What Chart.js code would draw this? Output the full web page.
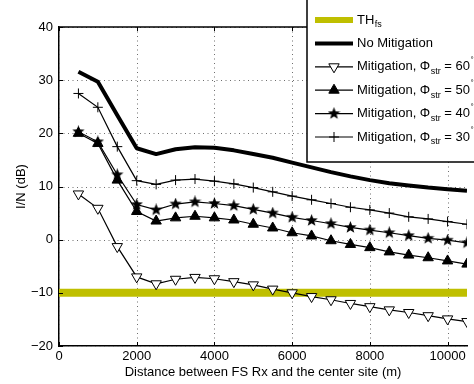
<!DOCTYPE html>
<html>
<head>
<meta charset="utf-8">
<script src="https://cdn.jsdelivr.net/npm/chart.js@4.4.1/dist/chart.umd.min.js"></script>
<style>
    html, body { margin: 0; padding: 0; background: #fff; overflow: hidden; }
</style>
</head>
<body>
<canvas id="chart" width="474" height="384"></canvas>
<script>
const distances = [500, 1000, 1500, 2000, 2500, 3000, 3500, 4000, 4500, 5000, 5500,
    6000, 6500, 7000, 7500, 8000, 8500, 9000, 9500, 10000, 10500];

const noMitigation = [31.6, 29.7, 23.4, 17.2, 16.1, 17.0, 17.4, 17.3, 16.8, 16.1, 15.4,
    14.5, 13.6, 12.7, 11.9, 11.2, 10.6, 10.2, 9.8, 9.5, 9.2];
const mitigation60 = [8.6, 5.9, -1.3, -7.0, -8.3, -7.45, -7.1, -7.35, -7.9, -8.5, -9.3,
    -10.0, -10.7, -11.3, -12.0, -12.6, -13.2, -13.7, -14.3, -14.9, -15.4];
const mitigation50 = [20.0, 18.1, 11.2, 5.3, 3.5, 4.1, 4.4, 4.1, 3.7, 2.9, 2.2,
    1.3, 0.7, -0.2, -0.9, -1.5, -2.3, -2.9, -3.4, -4.0, -4.6];
const mitigation40 = [20.3, 18.4, 12.2, 6.6, 5.6, 6.7, 7.1, 6.8, 6.4, 5.7, 5.0,
    4.2, 3.6, 3.0, 2.3, 1.8, 1.3, 0.75, 0.25, -0.1, -0.6];
const mitigation30 = [27.5, 24.9, 17.5, 11.1, 10.4, 11.2, 11.4, 11.0, 10.5, 9.8, 9.0,
    8.2, 7.5, 6.8, 6.1, 5.6, 5.0, 4.3, 3.9, 3.4, 2.9];

const thresholdX = [0, 10500];
const thresholdY = [-10, -10];

const xTicks = [0, 2000, 4000, 6000, 8000, 10000];
const yTicks = [-20, -10, 0, 10, 20, 30, 40];

const FONT = "'Liberation Sans', Arial, Helvetica, sans-serif";
const TH_COLOR = "#bfbf00";

function toPoints(xs, ys) {
    return xs.map((x, i) => ({ x, y: ys[i] }));
}

// filled five point star, chart.js 'star' is only outlined
function makeStar(size) {
    const c = document.createElement("canvas");
    c.width = size;
    c.height = size;
    const g = c.getContext("2d");
    const R = size / 2;
    const r = R * 0.42;
    g.beginPath();
    for (let i = 0; i < 10; i++) {
        const a = -Math.PI / 2 + (i * Math.PI) / 5;
        const rad = i % 2 ? r : R;
        g.lineTo(R + rad * Math.cos(a), R + rad * Math.sin(a));
    }
    g.closePath();
    g.fillStyle = "#000";
    g.fill();
    return c;
}
const starImg = makeStar(13);

// dotted grid, drawn under the lines
const dottedGrid = {
    id: "dottedGrid",
    beforeDatasetsDraw(chart) {
        const { ctx, chartArea } = chart;
        const xs = chart.scales.x;
        const ys = chart.scales.y;
        ctx.save();
        ctx.strokeStyle = "#6e6e6e";
        ctx.lineWidth = 1;
        ctx.setLineDash([1, 3.5]);
        ctx.beginPath();
        xTicks.forEach((v) => {
            const px = Math.round(xs.getPixelForValue(v)) + 0.5;
            ctx.moveTo(px, chartArea.top);
            ctx.lineTo(px, chartArea.bottom);
        });
        yTicks.forEach((v) => {
            const py = Math.round(ys.getPixelForValue(v)) + 0.5;
            ctx.moveTo(chartArea.left, py);
            ctx.lineTo(chartArea.right, py);
        });
        ctx.stroke();
        ctx.restore();
    },
};

const frame = {
    id: "frame",
    afterDraw(chart) {
        const { ctx, chartArea } = chart;
        const xs = chart.scales.x;
        const ys = chart.scales.y;
        ctx.save();
        ctx.strokeStyle = "#000";
        ctx.lineWidth = 1.5;
        ctx.beginPath();
        ctx.moveTo(chartArea.left, chartArea.top);
        ctx.lineTo(chartArea.right, chartArea.top);
        ctx.stroke();

        // matlab style inward ticks
        ctx.lineWidth = 1;
        ctx.beginPath();
        xTicks.forEach((v) => {
            const px = Math.round(xs.getPixelForValue(v)) + 0.5;
            ctx.moveTo(px, chartArea.bottom);
            ctx.lineTo(px, chartArea.bottom - 4);
            ctx.moveTo(px, chartArea.top);
            ctx.lineTo(px, chartArea.top + 4);
        });
        yTicks.forEach((v) => {
            const py = Math.round(ys.getPixelForValue(v)) + 0.5;
            ctx.moveTo(chartArea.left, py);
            ctx.lineTo(chartArea.left + 4, py);
        });
        ctx.stroke();
        ctx.restore();
    },
};

const legendRows = [
    { main: "TH", sub: "fs", tail: "", sup: "", kind: "th" },
    { main: "No Mitigation", sub: "", tail: "", sup: "", kind: "thick" },
    { main: "Mitigation, \u03a6", sub: "str", tail: " = 60", sup: "\u00b0", kind: "down" },
    { main: "Mitigation, \u03a6", sub: "str", tail: " = 50", sup: "\u00b0", kind: "up" },
    { main: "Mitigation, \u03a6", sub: "str", tail: " = 40", sup: "\u00b0", kind: "star" },
    { main: "Mitigation, \u03a6", sub: "str", tail: " = 30", sup: "\u00b0", kind: "plus" },
];

function drawTriangle(ctx, x, y, r, down, fill) {
    const s = down ? -1 : 1;
    ctx.beginPath();
    ctx.moveTo(x, y - s * r);
    ctx.lineTo(x + r * 0.866, y + s * r * 0.5);
    ctx.lineTo(x - r * 0.866, y + s * r * 0.5);
    ctx.closePath();
    ctx.fillStyle = fill;
    ctx.fill();
    ctx.stroke();
}

const legendBox = {
    id: "legendBox",
    afterDraw(chart) {
        const { ctx } = chart;
        const left = 307;
        const bottom = 162;
        ctx.save();
        ctx.fillStyle = "#fff";
        ctx.fillRect(left, -5, 200, bottom + 5);
        ctx.strokeStyle = "#000";
        ctx.lineWidth = 1.5;
        ctx.strokeRect(left, -5, 200, bottom + 5);

        legendRows.forEach((row, i) => {
            const y = 20 + i * 23.4;
            const x0 = 315;
            const x1 = 353;
            const mx = (x0 + x1) / 2;
            ctx.strokeStyle = row.kind === "th" ? TH_COLOR : "#000";
            ctx.lineWidth = row.kind === "th" ? 6 : row.kind === "thick" ? 4 : 1.2;
            ctx.beginPath();
            ctx.moveTo(x0, y);
            ctx.lineTo(x1, y);
            ctx.stroke();
            ctx.strokeStyle = "#000";
            ctx.lineWidth = 1;
            if (row.kind === "down") drawTriangle(ctx, mx, y, 6, true, "#fff");
            if (row.kind === "up") drawTriangle(ctx, mx, y, 6, false, "#000");
            if (row.kind === "star") ctx.drawImage(starImg, mx - 6.5, y - 6.5);
            if (row.kind === "plus") {
                ctx.beginPath();
                ctx.moveTo(mx - 5, y);
                ctx.lineTo(mx + 5, y);
                ctx.moveTo(mx, y - 5);
                ctx.lineTo(mx, y + 5);
                ctx.stroke();
            }

            ctx.fillStyle = "#000";
            ctx.textBaseline = "middle";
            ctx.textAlign = "left";
            let tx = 357;
            ctx.font = `13px ${FONT}`;
            ctx.fillText(row.main, tx, y);
            tx += ctx.measureText(row.main).width;
            if (row.sub) {
                ctx.font = `9px ${FONT}`;
                ctx.fillText(row.sub, tx + 0.5, y + 5);
                tx += ctx.measureText(row.sub).width + 0.5;
            }
            if (row.tail) {
                ctx.font = `13px ${FONT}`;
                ctx.fillText(row.tail, tx, y);
                tx += ctx.measureText(row.tail).width;
            }
            if (row.sup) {
                ctx.font = `8px ${FONT}`;
                ctx.fillText(row.sup, tx + 0.5, y - 7);
            }
        });
        ctx.restore();
    },
};

const lineBase = {
    borderColor: "#000",
    borderWidth: 1.2,
    pointBorderColor: "#000",
    pointBorderWidth: 1,
    tension: 0,
    fill: false,
};

new Chart(document.getElementById("chart"), {
    type: "line",
    data: {
        datasets: [
            {
                ...lineBase,
                label: "Mitigation 60",
                data: toPoints(distances, mitigation60),
                pointStyle: "triangle",
                rotation: 180,
                pointRadius: 6,
                pointBackgroundColor: "#fff",
            },
            {
                ...lineBase,
                label: "Mitigation 50",
                data: toPoints(distances, mitigation50),
                pointStyle: "triangle",
                pointRadius: 6,
                pointBackgroundColor: "#000",
            },
            {
                ...lineBase,
                label: "Mitigation 40",
                data: toPoints(distances, mitigation40),
                pointStyle: starImg,
                pointRadius: 6,
            },
            {
                ...lineBase,
                label: "Mitigation 30",
                data: toPoints(distances, mitigation30),
                pointStyle: "cross",
                pointRadius: 5,
            },
            {
                label: "No Mitigation",
                data: toPoints(distances, noMitigation),
                borderColor: "#000",
                borderWidth: 4,
                pointRadius: 0,
                borderJoinStyle: "round",
                tension: 0,
            },
            {
                label: "TH",
                data: toPoints(thresholdX, thresholdY),
                borderColor: TH_COLOR,
                borderWidth: 8,
                pointRadius: 0,
            },
        ],
    },
    options: {
        responsive: false,
        animation: false,
        layout: { padding: { top: 27, right: 0, left: 0, bottom: 0 } },
        plugins: {
            legend: { display: false },
            tooltip: { enabled: false },
        },
        scales: {
            x: {
                type: "linear",
                min: 0,
                max: 10500,
                afterFit: (scale) => { scale.height = 38; },
                afterBuildTicks: (scale) => {
                    scale.ticks = xTicks.map((v) => ({ value: v }));
                },
                ticks: {
                    color: "#000",
                    padding: 3,
                    maxRotation: 0,
                    font: { family: FONT, size: 13 },
                    callback: (v) => String(v),
                },
                grid: { display: false, drawTicks: false },
                border: { display: true, color: "#000", width: 1.5 },
                title: {
                    display: true,
                    text: "Distance between FS Rx and the center site (m)",
                    color: "#000",
                    font: { family: FONT, size: 13 },
                    padding: { top: 0, bottom: 4 },
                },
            },
            y: {
                type: "linear",
                min: -20,
                max: 40,
                afterFit: (scale) => { scale.width = 59; },
                afterBuildTicks: (scale) => {
                    scale.ticks = yTicks.map((v) => ({ value: v }));
                },
                ticks: {
                    color: "#000",
                    padding: 6,
                    font: { family: FONT, size: 13 },
                    callback: (v) => String(v).replace("-", "\u2212"),
                },
                grid: { display: false, drawTicks: false },
                border: { display: true, color: "#000", width: 1.5 },
                title: {
                    display: true,
                    text: "I/N (dB)",
                    color: "#000",
                    font: { family: FONT, size: 13 },
                    padding: { top: 14, bottom: 0 },
                },
            },
        },
    },
    plugins: [dottedGrid, frame, legendBox],
});
</script>
</body>
</html>
